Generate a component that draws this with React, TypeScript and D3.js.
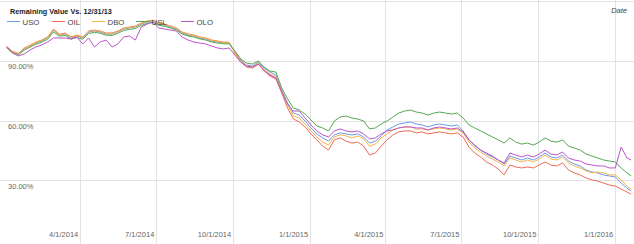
import React from "react";
import * as d3 from "d3";

const W = 634;
const H = 244;

// Weekly observations (Fridays from 1/3/2014 to 1/15/2016) plus 1/20/2016
const dates: Date[] = [
  ...d3.timeFriday.range(new Date(2014, 0, 3), new Date(2016, 0, 16)),
  new Date(2016, 0, 20),
];

const seriesNames = ["USO", "OIL", "DBO", "USL", "OLO"];
const seriesColors = ["#6a9ae8", "#ef6b55", "#f6b545", "#55a84f", "#bb55cc"];

const USO = [
  97.0, 94.5, 93.5, 96.0, 97.5, 99.0, 100.0, 101.5, 105.5, 103.0, 103.5, 101.5, 102.5, 101.5, 104.5, 105.0, 104.5, 103.5, 103.5, 104.5,
  106.0, 106.5, 107.0, 108.5, 109.5, 110.1, 108.5, 108.0, 107.0, 106.0, 104.0, 103.0, 102.5, 101.5, 101.0, 100.0, 99.5, 99.0, 99.0,
  94.5, 90.5, 87.9, 87.4, 89.4, 86.4, 84.4, 82.9,
  75.4, 68.8, 63.8, 62.8, 59.8, 56.3, 53.3, 51.3, 49.7, 52.8, 53.8, 53.3, 52.8, 53.3, 51.8, 48.7, 49.7, 52.3, 55.3, 56.8,
  58.3, 58.8, 59.3, 58.3, 57.8, 56.8, 57.8, 58.3, 57.8, 57.3, 57.8, 54.8, 50.3, 47.2, 45.2, 43.2, 41.7, 40.2, 38.2, 42.2,
  41.2, 40.2, 41.2, 40.2, 41.7, 43.7, 41.7, 41.2, 42.7, 39.7, 38.2, 37.2, 35.2, 34.2, 33.7, 32.7, 32.2, 31.7, 28.6, 26.1, 24.6,
];
const OIL = [
  97.2, 94.8, 93.8, 96.4, 97.9, 99.4, 100.5, 102.0, 106.0, 103.4, 104.0, 102.0, 103.0, 102.0, 105.0, 105.5, 105.0, 104.0, 104.0, 105.0,
  106.5, 107.0, 107.5, 109.0, 110.0, 110.5, 109.0, 108.5, 107.5, 106.5, 104.5, 103.5, 103.0, 102.0, 101.5, 100.5, 100.0, 99.5, 99.4,
  94.0, 89.4, 86.9, 86.4, 88.4, 84.9, 82.4, 80.9,
  73.9, 66.3, 60.8, 59.3, 56.8, 53.3, 50.3, 47.2, 45.2, 50.3, 51.3, 49.7, 48.7, 49.2, 47.2, 42.7, 43.7, 47.2, 50.3, 52.8,
  54.3, 54.8, 54.8, 53.8, 54.3, 53.3, 53.8, 54.3, 53.8, 53.3, 53.8, 51.8, 46.7, 43.7, 41.7, 39.2, 37.7, 35.7, 32.7, 37.7,
  36.7, 36.2, 36.7, 36.2, 37.7, 39.2, 37.7, 37.2, 38.7, 35.2, 33.7, 32.7, 31.2, 30.2, 29.6, 28.6, 27.6, 27.1, 25.6, 24.1, 23.1,
];
const DBO = [
  97.1, 94.7, 93.7, 96.2, 97.7, 99.2, 100.3, 101.8, 105.8, 103.2, 103.8, 101.8, 102.8, 101.7, 104.8, 105.3, 104.8, 103.8, 103.7, 104.8,
  106.3, 106.8, 107.3, 108.8, 109.8, 110.4, 108.8, 108.3, 107.3, 106.3, 104.3, 103.3, 102.8, 101.8, 101.3, 100.3, 99.8, 99.3, 99.2,
  94.5, 90.0, 87.4, 86.9, 88.9, 85.4, 83.4, 81.9,
  74.9, 67.8, 62.3, 61.3, 58.3, 54.8, 51.8, 49.2, 47.7, 51.8, 52.8, 52.3, 51.3, 52.3, 50.8, 47.2, 48.2, 51.3, 53.3, 55.3,
  56.3, 56.8, 56.8, 55.8, 55.8, 55.3, 55.8, 56.3, 55.8, 55.3, 55.8, 53.8, 49.2, 46.2, 44.2, 42.2, 40.7, 39.2, 37.2, 41.2,
  40.2, 39.2, 40.2, 39.2, 40.7, 42.7, 40.7, 40.2, 41.7, 38.7, 37.2, 36.2, 34.7, 33.7, 34.2, 33.7, 32.7, 32.7, 30.2, 27.1, 25.6,
];
const USL = [
  96.6, 94.0, 93.0, 95.4, 96.9, 98.4, 99.4, 100.9, 104.6, 102.4, 102.8, 100.9, 101.8, 100.9, 103.8, 104.3, 103.9, 102.9, 102.8, 103.8,
  105.3, 105.8, 106.3, 107.8, 108.8, 109.4, 107.9, 107.4, 106.5, 105.5, 103.5, 102.5, 102.0, 101.0, 100.5, 99.5, 99.0, 98.6, 98.6,
  95.0, 91.0, 88.9, 88.4, 90.0, 86.9, 84.9, 84.4,
  76.4, 70.9, 66.3, 65.3, 63.3, 60.3, 57.3, 56.3, 54.8, 59.8, 61.8, 62.3, 61.3, 60.8, 59.8, 55.8, 56.3, 58.3, 59.8, 61.8,
  63.8, 64.8, 65.3, 64.3, 63.8, 62.8, 63.8, 64.3, 63.8, 63.3, 63.8, 61.3, 57.8, 56.3, 54.8, 53.3, 51.8, 50.3, 48.7, 51.3,
  49.2, 48.2, 48.7, 47.7, 49.2, 51.3, 49.7, 49.2, 50.3, 47.2, 46.2, 45.2, 43.2, 42.2, 41.2, 40.2, 39.7, 39.2, 36.2, 33.7, 32.2,
];
const OLO = [
  97.0, 94.0, 92.5, 93.5, 95.5, 97.0, 98.0, 99.5, 101.5, 101.5, 101.5, 101.0, 102.0, 98.5, 101.5, 97.0, 99.5, 100.5, 97.0, 98.5,
  102.0, 102.5, 100.5, 107.0, 108.5, 109.5, 106.5, 106.0, 105.5, 105.0, 102.0, 100.5, 99.5, 99.0, 98.5, 97.5, 96.5, 96.0, 96.5,
  93.0, 89.4, 87.4, 86.9, 88.4, 85.4, 82.9, 81.4,
  74.4, 68.3, 64.8, 64.8, 61.3, 57.8, 54.8, 52.8, 51.8, 54.8, 55.8, 54.8, 54.3, 54.8, 53.3, 50.8, 51.3, 53.3, 54.8, 55.3,
  56.3, 56.8, 56.8, 56.3, 56.3, 55.3, 56.3, 56.8, 56.3, 55.8, 56.3, 54.3, 50.3, 47.7, 45.2, 43.7, 42.2, 40.2, 38.7, 43.7,
  42.7, 41.7, 42.7, 41.7, 43.2, 45.2, 43.2, 42.7, 44.2, 41.2, 40.2, 39.7, 38.2, 37.7, 37.2, 37.2, 36.2, 36.2, 46.7, 41.2, 40.2,
];
const seriesValues = [USO, OIL, DBO, USL, OLO];

const yTicks = [30, 60, 90, 120];
const xTickDates = [
  new Date(2014, 3, 1), new Date(2014, 6, 1), new Date(2014, 9, 1), new Date(2015, 0, 1),
  new Date(2015, 3, 1), new Date(2015, 6, 1), new Date(2015, 9, 1), new Date(2016, 0, 1),
];
const xTickLabels = ["4/1/2014", "7/1/2014", "10/1/2014", "1/1/2015", "4/1/2015", "7/1/2015", "10/1/2015", "1/1/2016"];
const legendX = [7, 52, 92, 136, 181];

const title = "Remaining Value Vs. 12/31/13";
const FONT = "'Liberation Sans', Arial, sans-serif";

export default function App() {
  const x = d3.scaleTime().domain([new Date(2014, 0, 1), new Date(2016, 0, 21)]).range([5, 632]);
  const y = d3.scaleLinear().domain([0, 120]).range([240, 1.2]);
  const line = d3
    .line<number>()
    .x((_, i) => x(dates[i]))
    .y((v) => y(v));

  return (
    <svg
      width={W}
      height={H}
      style={{ position: "absolute", left: 0, top: 0, background: "#fff" }}
      fontFamily={FONT}
    >
      <rect x={0} y={0} width={W} height={H} fill="#fff" />
      {yTicks.map((t) => (
        <line key={t} x1={0} x2={W} y1={Math.round(y(t)) + 0.5} y2={Math.round(y(t)) + 0.5} stroke="#e3e3e3" strokeWidth={1} />
      ))}
      {xTickDates.map((d, i) => (
        <line key={i} x1={Math.round(x(d)) + 0.5} x2={Math.round(x(d)) + 0.5} y1={0} y2={H} stroke="#e3e3e3" strokeWidth={1} />
      ))}
      {yTicks
        .filter((t) => t < 120)
        .map((t) => (
          <text key={t} x={8} y={y(t) + 8.5} fontSize={7.5} fill="#666">
            {t.toFixed(2)}%
          </text>
        ))}
      {xTickDates.map((d, i) => (
        <text key={i} x={x(d) - 2} y={237} fontSize={7.5} fill="#666" textAnchor="end">
          {xTickLabels[i]}
        </text>
      ))}
      {seriesValues.map((vals, k) => (
        <path key={k} d={line(vals) || ""} fill="none" stroke={seriesColors[k]} strokeWidth={1} strokeLinejoin="round" />
      ))}
      <text x={10} y={13.5} fontSize={7.3} fontWeight="bold" fill="#222">
        {title}
      </text>
      {seriesNames.map((n, k) => (
        <g key={n}>
          <line x1={legendX[k]} x2={legendX[k] + 13} y1={21.5} y2={21.5} stroke={seriesColors[k]} strokeWidth={1} />
          <text x={legendX[k] + 15.5} y={24.5} fontSize={7.8} fill="#444">
            {n}
          </text>
        </g>
      ))}
      <text x={627} y={13} fontSize={7.5} fontStyle="italic" fill="#444" textAnchor="end">
        Date
      </text>
    </svg>
  );
}
